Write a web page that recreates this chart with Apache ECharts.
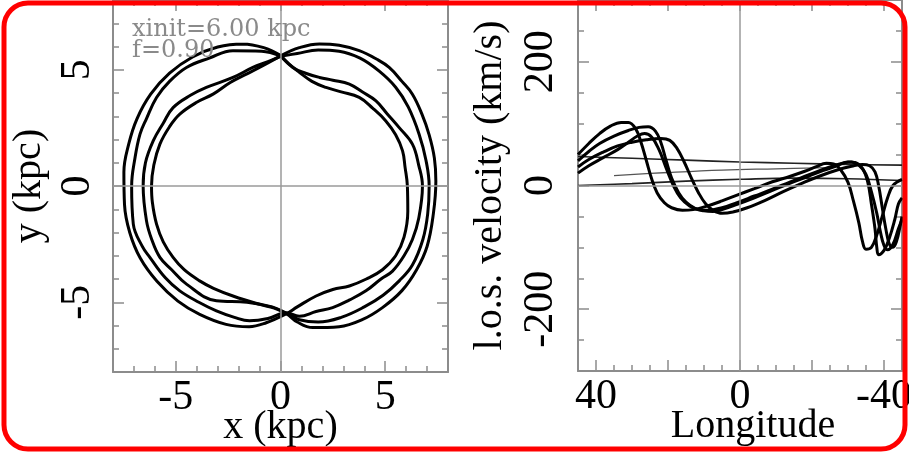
<!DOCTYPE html>
<html><head><meta charset="utf-8">
<script src="https://cdn.jsdelivr.net/npm/echarts@6/dist/echarts.min.js"></script>
<style>html,body{margin:0;padding:0;background:#fff}#c{width:909px;height:453px}</style>
</head><body><div id="c"></div>
<script>
// ---------- data ----------
const xyTicks = [-5, 0, 5];
const lonTicks = [40, 0, -40];
const lonMajor = [-40, -20, 0, 20, 40];
const velTicks = [-200, 0, 200];

// orbit in the x-y plane (kpc): four loops, two shifted right, two shifted left
const orbitLoop1 = [[0.05,5.62],[0.9,5.95],[1.86,6.11],[2.8,6.05],[3.76,5.82],[4.6,5.45],[5.19,5.1],[5.8,4.5],[6.3,3.95],[6.75,3.1],[7.1,2.2],[7.35,1.2],[7.42,0.2],[7.3,-1.2],[7.0,-2.6],[6.5,-3.6],[5.8,-4.5],[4.87,-5.23],[3.9,-5.75],[2.8,-6.05],[1.54,-6.09],[0.8,-5.85],[0.3,-5.5],[-0.3,-5.25],[-1.0,-5.09],[-2.27,-4.73],[-3.2,-4.4],[-3.86,-4.08],[-4.6,-3.6],[-5.13,-3.07],[-5.6,-2.4],[-5.92,-1.64],[-6.12,-0.7],[-6.16,0.0],[-6.05,0.9],[-5.76,1.8],[-5.3,2.55],[-4.81,3.09],[-4.0,3.6],[-3.22,3.95],[-2.4,4.45],[-1.63,4.81],[-0.8,5.2],[0.05,5.62]];
const orbitLoop2 = [[0.0,5.58],[0.8,5.7],[1.8,5.85],[2.8,5.8],[3.8,5.5],[4.7,4.95],[5.5,4.25],[6.1,3.4],[6.62,2.23],[6.95,1.1],[7.1,0.0],[7.03,-1.2],[6.8,-2.3],[6.3,-3.4],[5.67,-4.08],[4.9,-4.7],[4.0,-5.2],[2.9,-5.65],[1.8,-5.85],[0.9,-5.75],[0.3,-5.48],[-0.4,-5.2],[-1.6,-5.0],[-3.06,-4.94],[-4.49,-4.22],[-5.2,-3.6],[-5.76,-3.07],[-6.15,-2.3],[-6.4,-1.5],[-6.56,0.0],[-6.45,1.0],[-6.08,1.94],[-5.6,2.7],[-5.13,3.37],[-4.3,3.9],[-3.54,4.24],[-2.27,4.67],[-1.32,5.1],[-0.6,5.35],[0.0,5.58]];
const orbitLoop3 = [[0.0,5.62],[-0.8,5.95],[-1.8,6.11],[-3.0,5.98],[-4.2,5.55],[-5.3,4.85],[-6.2,3.95],[-6.85,2.9],[-7.25,1.8],[-7.48,0.6],[-7.45,-0.8],[-7.2,-2.0],[-6.7,-3.1],[-5.9,-4.1],[-4.9,-4.95],[-3.86,-5.52],[-2.6,-5.95],[-1.5,-6.05],[-0.68,-5.88],[0.27,-5.5],[0.8,-5.2],[1.7,-4.73],[2.5,-4.45],[3.29,-4.3],[4.1,-4.0],[4.87,-3.6],[5.5,-3.0],[5.9,-2.2],[6.08,-1.1],[6.06,0.0],[5.95,0.8],[5.83,1.51],[5.5,2.2],[5.03,2.8],[4.4,3.35],[3.76,3.81],[2.9,4.05],[2.17,4.24],[1.5,4.5],[0.9,4.89],[0.4,5.25],[0.0,5.62]];
const orbitLoop4 = [[0.0,5.6],[-0.9,5.8],[-2.27,5.82],[-3.4,5.5],[-4.49,5.1],[-5.3,4.5],[-5.92,3.81],[-6.4,2.9],[-6.71,2.23],[-6.95,1.2],[-7.11,0.0],[-7.03,-1.64],[-6.6,-2.6],[-6.24,-3.07],[-5.5,-3.95],[-4.81,-4.51],[-3.9,-5.0],[-3.06,-5.37],[-2.2,-5.65],[-1.48,-5.8],[-0.6,-5.7],[0.25,-5.45],[0.9,-5.6],[1.7,-5.4],[2.49,-5.23],[3.3,-4.9],[4.08,-4.51],[4.8,-4.0],[5.35,-3.66],[5.9,-3.0],[6.3,-2.3],[6.6,-1.4],[6.78,0.0],[6.6,0.9],[6.3,1.8],[5.67,2.51],[5.1,3.1],[4.56,3.66],[3.9,4.05],[3.29,4.38],[2.5,4.55],[1.86,4.67],[1.2,4.85],[0.59,5.1],[0.0,5.6]];

// line-of-sight velocity (km/s) against longitude (deg)
const losWave1 = [[45,50],[42,68],[39,84],[36,96],[33,102],[31,102],[29,92],[27.5,70],[26,40],[24.5,10],[23,-12],[21,-28],[19,-36],[16,-40],[13,-39],[9,-33],[5,-25],[1,-16],[-4,-5],[-9,6],[-14,15],[-18,23],[-21,30],[-24,36],[-26,35],[-28,25],[-30,5],[-31.5,-25],[-33,-60],[-34,-90],[-35,-103],[-36.5,-100],[-38,-80],[-39.5,-50],[-41,-20],[-42.5,0],[-45,10]];
const losWave2 = [[45,40],[42,55],[39,68],[35,80],[31,89],[28,94],[25.5,95],[23.5,88],[22,70],[20.5,40],[19,12],[17,-12],[15,-27],[12.5,-37],[10,-41],[7.5,-42],[5,-39],[1,-31],[-4,-20],[-9,-8],[-14,4],[-19,15],[-23,24],[-27,32],[-30,38],[-32,37],[-34,28],[-35.5,5],[-36.5,-30],[-37.5,-70],[-38,-100],[-38.5,-112],[-40,-105],[-41.5,-85],[-43,-55],[-44,-30],[-45,-20]];
const losWave3 = [[45,30],[42,42],[38,54],[34,64],[30,70],[26,74],[22,76],[19.5,73],[17.5,60],[15.5,38],[13.5,12],[11.5,-12],[9.5,-30],[7.5,-40],[5,-45],[2,-43],[-2,-36],[-7,-24],[-12,-10],[-17,3],[-22,15],[-27,25],[-31,31],[-34,34],[-36,32],[-37.5,22],[-38.5,0],[-39.5,-35],[-40.5,-70],[-41.5,-95],[-42.5,-100],[-43.5,-90],[-44.5,-65],[-45,-50]];
const losWave4 = [[45,20],[42,32],[38,45],[34,58],[31,70],[28.5,80],[26.5,84],[24.5,78],[22.5,58],[20.5,28],[18.5,0],[16.5,-20],[14,-33],[11.5,-39],[9,-40],[5,-36],[1,-28],[-4,-17],[-9,-6],[-14,6],[-19,17],[-23,26],[-26,32],[-29,37],[-31,38],[-33,33],[-35,18],[-36.5,-10],[-38,-45],[-39,-75],[-40,-97],[-41,-104],[-42.5,-95],[-44,-70],[-45,-55]];
const losFlat1 = [[45,47],[30,44],[15,41],[0,38],[-15,36],[-30,34],[-45,33]];
const losFlat2 = [[45,0],[30,3],[15,7],[0,10],[-15,12],[-30,11],[-45,8]];
const losFlat3 = [[35,16],[20,21],[5,25],[-10,27],[-25,29]];

// ---------- chart ----------
const SERIF = 'Liberation Serif';
const AX = '#8c8c8c';
function ax(grid, pos, min, max, step, extra) {
  return Object.assign({
    type: 'value', gridIndex: grid, position: pos, min: min, max: max, interval: step,
    axisLine: { show: true, onZero: false, lineStyle: { color: AX, width: 2 } },
    axisTick: { show: true, inside: true, length: 6, lineStyle: { color: AX, width: 1.5 } },
    axisLabel: { show: false },
    splitLine: { show: false }
  }, extra || {});
}
function major(grid, pos, min, max, step, vals, inv) {
  return ax(grid, pos, min, max, step, {
    inverse: !!inv,
    axisLine: { show: false, onZero: false },
    axisTick: { show: true, inside: true, length: 11, customValues: vals, lineStyle: { color: AX, width: 1.5 } }
  });
}
function lbl(vals, rot, margin) {
  return { show: true, customValues: vals, rotate: rot, margin: margin,
           fontFamily: SERIF, fontSize: 42, color: '#000' };
}
const nameStyle = { fontFamily: SERIF, fontSize: 40, color: '#000' };

const xAxes = [
  ax(0, 'bottom', -8, 8, 1, { axisLabel: lbl(xyTicks, 0, 5), name: 'x (kpc)', nameLocation: 'middle', nameGap: 35, nameMoveOverlap: false, nameTextStyle: nameStyle }),
  major(0, 'bottom', -8, 8, 1, xyTicks),
  ax(0, 'top', -8, 8, 1),
  major(0, 'top', -8, 8, 1, xyTicks),
  ax(1, 'bottom', -45, 45, 5, { inverse: true, axisLabel: lbl(lonTicks, 0, 5), name: 'Longitude', nameLocation: 'middle', nameGap: 35, nameMoveOverlap: false,
        nameTextStyle: Object.assign({ padding: [0, 0, 0, 26] }, nameStyle) }),
  major(1, 'bottom', -45, 45, 5, lonMajor, true),
  ax(1, 'top', -45, 45, 5, { inverse: true }),
  major(1, 'top', -45, 45, 5, lonMajor, true)
];
const yAxes = [
  ax(0, 'left', -8, 8, 1, { axisLabel: lbl(xyTicks, 90, 14), name: 'y (kpc)', nameLocation: 'middle', nameGap: 64, nameRotate: 90, nameMoveOverlap: false, nameTextStyle: nameStyle }),
  major(0, 'left', -8, 8, 1, xyTicks),
  ax(0, 'right', -8, 8, 1),
  major(0, 'right', -8, 8, 1, xyTicks),
  ax(1, 'left', -300, 300, 50, { axisLabel: lbl(velTicks, 90, 16), name: 'l.o.s. velocity (km/s)', nameLocation: 'middle', nameGap: 68, nameRotate: 90, nameMoveOverlap: false, nameTextStyle: nameStyle }),
  major(1, 'left', -300, 300, 50, velTicks),
  ax(1, 'right', -300, 300, 50),
  major(1, 'right', -300, 300, 50, velTicks)
];

function curve(data, xi, yi, w, col) {
  return { type: 'line', xAxisIndex: xi, yAxisIndex: yi, data: data, showSymbol: false, smooth: 0.4,
           clip: true, silent: true, z: 3, lineStyle: { color: col || '#000', width: w } };
}
function zeroLines(xi, yi) {
  return { type: 'line', xAxisIndex: xi, yAxisIndex: yi, data: [], z: 1, silent: true,
           markLine: { silent: true, symbol: ['none', 'none'], label: { show: false },
                       lineStyle: { color: '#9a9a9a', width: 1.5, type: 'solid' },
                       data: [{ xAxis: 0 }, { yAxis: 0 }] } };
}

const chart = echarts.init(document.getElementById('c'), null, { renderer: 'canvas' });
chart.setOption({
  animation: false,
  backgroundColor: '#fff',
  grid: [
    { left: 113, top: 0, width: 335, height: 372, containLabel: false, outerBoundsMode: 'none' },
    { left: 578, top: 0, width: 324, height: 371, containLabel: false, outerBoundsMode: 'none' }
  ],
  xAxis: xAxes,
  yAxis: yAxes,
  series: [
    zeroLines(0, 0),
    zeroLines(4, 4),
    curve(orbitLoop1, 0, 0, 3), curve(orbitLoop2, 0, 0, 3),
    curve(orbitLoop3, 0, 0, 3), curve(orbitLoop4, 0, 0, 3),
    curve(losFlat1, 4, 4, 1.6, '#222'), curve(losFlat2, 4, 4, 1.6, '#222'), curve(losFlat3, 4, 4, 1.3, '#555'),
    curve(losWave1, 4, 4, 3), curve(losWave2, 4, 4, 3),
    curve(losWave3, 4, 4, 3), curve(losWave4, 4, 4, 3)
  ],
  graphic: [
    { type: 'text', left: 132, top: 18, z: 10, style: { text: 'xinit=6.00 kpc', fill: '#8a8a8a', font: '24px "DejaVu Serif"' } },
    { type: 'text', left: 132, top: 39, z: 10, style: { text: 'f=0.90', fill: '#8a8a8a', font: '24px "DejaVu Serif"' } },
    { type: 'rect', z: 20, shape: { x: 4, y: 3, width: 901, height: 446, r: 24 },
      style: { fill: 'none', stroke: '#ff0000', lineWidth: 5 } }
  ]
});
</script>
</body></html>
